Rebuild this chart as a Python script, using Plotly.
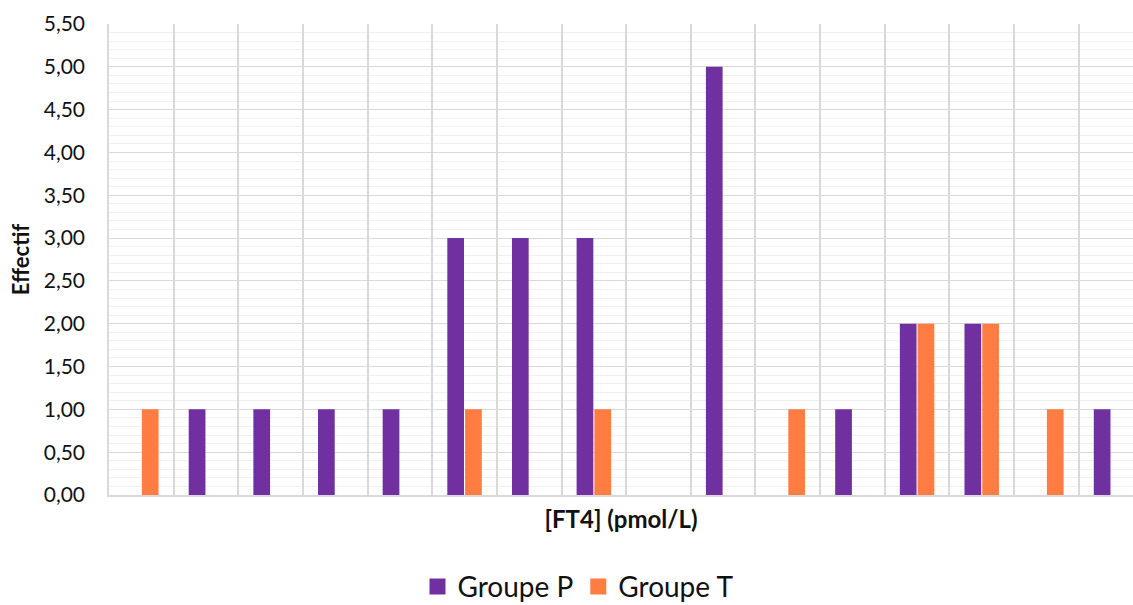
import plotly.graph_objects as go

# Data
categories = [str(i) for i in range(1, 17)]  # class intervals of [FT4] (labels not shown)
groupe_p = [0, 1, 1, 1, 1, 3, 3, 3, 0, 5, 0, 1, 2, 2, 0, 1]
groupe_t = [1, 0, 0, 0, 0, 1, 0, 1, 0, 0, 1, 0, 2, 2, 1, 0]
y_ticks = [0, 0.5, 1, 1.5, 2, 2.5, 3, 3.5, 4, 4.5, 5, 5.5]
series = [("Groupe P", groupe_p, "#7030A0"), ("Groupe T", groupe_t, "#FF7C43")]

GRID = "#D9D9D9"
MINOR = "#F0F0F0"
FONT = "Lato"
TXT = "#111111"

fig = go.Figure()
for name, vals, col in series:
    fig.add_trace(go.Bar(name=name, x=categories, y=vals, showlegend=False,
                         marker=dict(color=col, line=dict(width=0))))
# legend entries with large square swatches
for name, vals, col in series:
    fig.add_trace(go.Scatter(name=name, x=[None], y=[None], mode="markers",
                             marker=dict(symbol="square", size=21, color=col)))

fig.update_layout(
    width=1133, height=605,
    margin=dict(l=109, r=0, t=24, b=110),
    paper_bgcolor="white", plot_bgcolor="white",
    separators=", ",
    barmode="group", bargap=0.45, bargroupgap=0.06,
    font=dict(family=FONT, color=TXT, size=21),
    legend=dict(orientation="h", x=0.458, xanchor="center",
                yref="container", y=0.03, yanchor="middle",
                font=dict(size=28, family=FONT, color=TXT),
                itemwidth=30, traceorder="normal"),
    xaxis=dict(
        type="category", range=[-0.5, 15.34], automargin=False,
        tickson="boundaries", showgrid=True, gridcolor=GRID, gridwidth=1.7,
        showticklabels=False, ticks="",
        showline=True, linecolor=GRID, linewidth=1.5,
        title=dict(text="<b>[FT4] (pmol/L)</b>", font=dict(size=24, family=FONT, color=TXT), standoff=15),
    ),
    yaxis=dict(
        range=[0, 5.5], tickvals=y_ticks, tickformat=".2f", automargin=False,
        showgrid=True, gridcolor=GRID, gridwidth=1.4,
        minor=dict(dtick=0.1, showgrid=True, gridcolor=MINOR, gridwidth=1),
        showline=True, linecolor=GRID, linewidth=1.5,
        zeroline=False, ticks="", ticklabelstandoff=18,
        tickfont=dict(size=21, family=FONT, color=TXT),
        title=dict(text="<b>Effectif</b>", font=dict(size=22, family=FONT, color=TXT), standoff=8),
    ),
)

fig.write_html("out.html", config={"displayModeBar": False},
               post_script="document.body.style.margin='0';")
